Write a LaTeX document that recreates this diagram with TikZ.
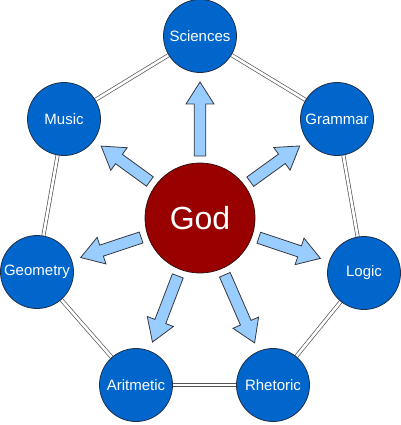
\documentclass[tikz,border=0pt]{standalone}
\usepackage{fontspec}
\setmainfont{Liberation Sans}
\usetikzlibrary{calc,backgrounds}
\definecolor{artfill}{HTML}{0066CC}
\definecolor{artborder}{HTML}{1F2F4A}
\definecolor{godfill}{HTML}{990000}
\definecolor{godborder}{HTML}{3A1010}
\definecolor{rayfill}{HTML}{99CCFF}
\definecolor{rayborder}{HTML}{36393D}
\definecolor{linkborder}{HTML}{555555}
\tikzset{
  art node/.style={
    circle, draw=artborder, fill=artfill, text=white,
    line width=0.8pt, minimum size=73pt, inner sep=0pt,
    font=\fontsize{15}{18}\selectfont
  },
  god node/.style={
    circle, draw=godborder, fill=godfill, text=white,
    line width=0.8pt, minimum size=110pt, inner sep=0pt,
    font=\fontsize{32}{38}\selectfont
  },
  art link/.style={
    draw=linkborder, line width=0.7pt,
    double=white, double distance=2.6pt
  },
  god ray/.style={
    draw=rayborder, fill=rayfill, line width=0.8pt, line join=miter
  }
}

\begin{document}
\begin{tikzpicture}[x=1pt,y=-1pt]
  \useasboundingbox (0,0) rectangle (400,425);

  \node[god node] (god) at (200,218) {God};

  \node[art node] (sciences) at (200,36) {Sciences};
  \node[art node] (grammar) at (337,119) {Grammar};
  \node[art node] (logic) at (364,273) {Logic};
  \node[art node] (rhetoric) at (273,385) {Rhetoric};
  \node[art node] (aritmetic) at (136,385) {Aritmetic};
  \node[art node] (geometry) at (37,272) {Geometry};
  \node[art node] (music) at (64,119) {Music};

  % The seven arts are chained round the ring behind the circles.
  \begin{scope}[on background layer]
    \draw[art link] (sciences) -- (grammar);
    \draw[art link] (grammar) -- (logic);
    \draw[art link] (logic) -- (rhetoric);
    \draw[art link] (rhetoric) -- (aritmetic);
    \draw[art link] (aritmetic) -- (geometry);
    \draw[art link] (geometry) -- (music);
    \draw[art link] (music) -- (sciences);
  \end{scope}

  % One block arrow from the centre towards each art.
  \foreach \art in {sciences,grammar,logic,rhetoric,aritmetic,geometry,music}{
    \coordinate (\art-tail) at ($(god)!62pt!(\art)$);
    \coordinate (\art-tip) at ($(\art)!46pt!(god)$);
    \coordinate (\art-neck) at ($(\art-tip)!22pt!(\art-tail)$);
    \draw[god ray] ($(\art-tail)!5.8pt!90:(\art-tip)$)
      -- ($(\art-neck)!5.8pt!90:(\art-tip)$)
      -- ($(\art-neck)!14pt!90:(\art-tip)$)
      -- (\art-tip)
      -- ($(\art-neck)!14pt!-90:(\art-tip)$)
      -- ($(\art-neck)!5.8pt!-90:(\art-tip)$)
      -- ($(\art-tail)!5.8pt!-90:(\art-tip)$) -- cycle;
  }
\end{tikzpicture}
\end{document}
